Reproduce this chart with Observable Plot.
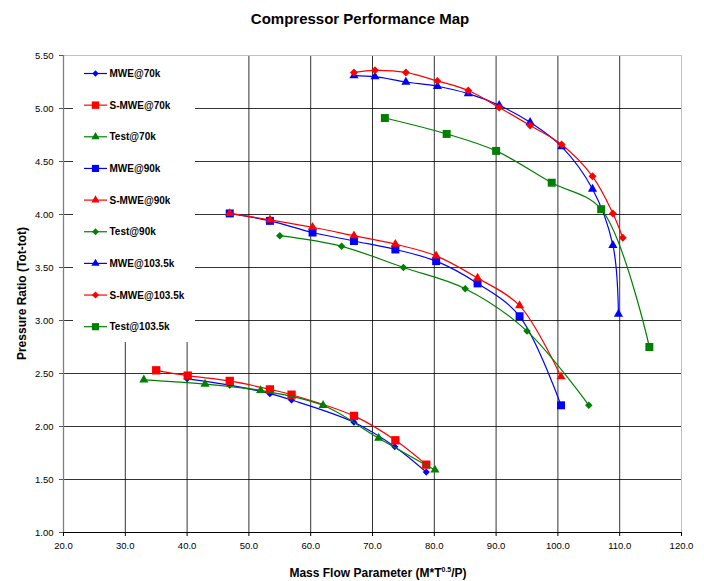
<!DOCTYPE html>
<html><head><meta charset="utf-8">
<script src="https://cdn.jsdelivr.net/npm/d3@7"></script>
<script src="https://cdn.jsdelivr.net/npm/@observablehq/plot@0.6"></script>
<style>
body{margin:0;background:#fff;font-family:"Liberation Sans",Arial,sans-serif;}
#title{height:40px;width:704px;box-sizing:border-box;padding-left:16px;padding-top:11px;text-align:center;font-weight:bold;font-size:15px;line-height:16px;color:#000;}
#chart svg{display:block;}
</style></head><body>
<div id="title">Compressor Performance Map</div>
<div id="chart"></div>
<script>
const xTicks = [20, 30, 40, 50, 60, 70, 80, 90, 100, 110, 120];
const yTicks = [1.0, 1.5, 2.0, 2.5, 3.0, 3.5, 4.0, 4.5, 5.0, 5.5];
const seriesNames = ["MWE@70k", "S-MWE@70k", "Test@70k", "MWE@90k", "S-MWE@90k", "Test@90k", "MWE@103.5k", "S-MWE@103.5k", "Test@103.5k"];
const seriesColors = ["#0000ff", "#ff0000", "#008000", "#0000ff", "#ff0000", "#008000", "#0000ff", "#ff0000", "#008000"];
const seriesSymbols = ["diamond2", "square", "triangle", "square", "triangle", "diamond2", "triangle", "diamond2", "square"];
const seriesRadii = [3.2, 4.7, 3.4, 4.5, 3.4, 3.4, 3.4, 3.6, 4.5];

const mwe70X = [40.0, 46.9, 53.4, 56.9, 67.0, 73.6, 78.7];
const mwe70Y = [2.45, 2.39, 2.31, 2.25, 2.04, 1.81, 1.57];
const smwe70X = [35.0, 40.1, 46.9, 53.4, 56.9, 67.0, 73.7, 78.7];
const smwe70Y = [2.53, 2.48, 2.43, 2.35, 2.30, 2.10, 1.87, 1.64];
const test70X = [33.0, 42.9, 51.9, 62.0, 71.0, 80.1];
const test70Y = [2.44, 2.40, 2.34, 2.20, 1.89, 1.59];

const mwe90X = [46.9, 53.4, 60.3, 67.0, 73.7, 80.3, 87.0, 93.8, 100.5];
const mwe90Y = [4.01, 3.94, 3.83, 3.75, 3.67, 3.56, 3.35, 3.04, 2.20];
const smwe90X = [46.9, 53.4, 60.3, 67.0, 73.7, 80.3, 87.0, 93.8, 100.5];
const smwe90Y = [4.01, 3.95, 3.88, 3.80, 3.72, 3.61, 3.40, 3.14, 2.47];
const test90X = [55.0, 65.0, 75.0, 85.0, 95.0, 105.0];
const test90Y = [3.80, 3.70, 3.50, 3.30, 2.90, 2.20];

const mwe103X = [67.0, 70.4, 75.4, 80.5, 85.5, 90.5, 95.5, 100.6, 105.6, 108.9, 109.8];
const mwe103Y = [5.31, 5.30, 5.25, 5.21, 5.14, 5.03, 4.87, 4.64, 4.24, 3.71, 3.06];
const smwe103X = [67.0, 70.4, 75.4, 80.5, 85.5, 90.5, 95.5, 100.6, 105.6, 108.9, 110.5];
const smwe103Y = [5.34, 5.36, 5.34, 5.26, 5.17, 5.01, 4.84, 4.66, 4.36, 4.01, 3.78];
const test103X = [72.0, 82.0, 90.0, 99.0, 107.0, 114.8];
const test103Y = [4.91, 4.76, 4.60, 4.30, 4.05, 2.75];

const seriesX = [mwe70X, smwe70X, test70X, mwe90X, smwe90X, test90X, mwe103X, smwe103X, test103X];
const seriesY = [mwe70Y, smwe70Y, test70Y, mwe90Y, smwe90Y, test90Y, mwe103Y, smwe103Y, test103Y];

const series = seriesNames.map((name, i) => ({
  name, color: seriesColors[i], symbol: seriesSymbols[i], r: seriesRadii[i],
  data: seriesX[i].map((x, j) => ({x, y: seriesY[i][j]}))
}));

const W = 704, H = 541;
const mL = 63, mR = 23, mT = 15, mB = 49;

const chart = Plot.plot({
  width: W, height: H,
  marginLeft: mL, marginRight: mR, marginTop: mT, marginBottom: mB,
  style: {fontFamily: "'Liberation Sans', Arial, sans-serif", fontSize: "9.5px", color: "#000", background: "#fff", overflow: "visible"},
  x: {domain: [20, 120], label: null},
  y: {domain: [1, 5.5], label: null},
  marks: [
    Plot.gridX(xTicks, {stroke: "#000", strokeOpacity: 0.8, strokeWidth: 1}),
    Plot.gridY(yTicks, {stroke: "#000", strokeOpacity: 0.8, strokeWidth: 1}),
    Plot.ruleX([xTicks[xTicks.length - 1]], {stroke: "#c0c0c0", strokeWidth: 1}),
    Plot.ruleY([yTicks[yTicks.length - 1]], {stroke: "#c0c0c0", strokeWidth: 1}),
    Plot.ruleX([xTicks[0]], {stroke: "#808080", strokeWidth: 1.3}),
    Plot.ruleY([yTicks[0]], {stroke: "#000", strokeWidth: 1.2}),
    Plot.axisX({ticks: xTicks, tickSize: 4, tickPadding: 6, tickFormat: d => d.toFixed(1), label: null, stroke: "#000"}),
    Plot.axisY({ticks: yTicks, tickSize: 4, tickPadding: 6, tickFormat: d => d.toFixed(2), label: null, stroke: "#555"}),
    ...series.flatMap(s => [
      Plot.line(s.data, {x: "x", y: "y", stroke: s.color, strokeWidth: 1.2, curve: "catmull-rom"}),
      Plot.dot(s.data, {x: "x", y: "y", symbol: s.symbol, fill: s.color, r: s.r, stroke: "none"})
    ])
  ]
});
document.getElementById("chart").appendChild(chart);

const svg = d3.select(chart);

// Legend box (inside plot area)
const lg = svg.append("g").attr("text-anchor", "start");
lg.append("rect").attr("x", 73).attr("y", 16).attr("width", 122).attr("height", 286).attr("fill", "#fff");
const symMap = {diamond2: d3.symbolDiamond2, square: d3.symbolSquare, triangle: d3.symbolTriangle};
series.forEach((s, i) => {
  const y = 33.5 + i * 31.65;
  const g = lg.append("g");
  g.append("line").attr("x1", 84).attr("x2", 107).attr("y1", y).attr("y2", y).attr("stroke", s.color).attr("stroke-width", 1.2);
  g.append("path").attr("transform", `translate(95.5,${y})`)
    .attr("d", d3.symbol(symMap[s.symbol], Math.PI * s.r * s.r * 0.8)())
    .attr("fill", s.color);
  g.append("text").attr("x", 109.5).attr("y", y).attr("dy", "0.35em")
    .attr("text-anchor", "start")
    .attr("font-weight", "bold").attr("font-size", "10px").attr("fill", "#000").text(s.name);
});

// Axis titles
svg.append("text")
  .attr("transform", `translate(22,${mT + (H - mT - mB) / 2}) rotate(-90)`)
  .attr("text-anchor", "middle").attr("dy", "0.35em")
  .attr("font-weight", "bold").attr("font-size", "12px").attr("fill", "#000")
  .text("Pressure Ratio (Tot-tot)");
const xt = svg.append("text")
  .attr("x", 378).attr("y", 537)
  .attr("text-anchor", "middle")
  .attr("font-weight", "bold").attr("font-size", "12px").attr("fill", "#000");
xt.append("tspan").text("Mass Flow Parameter (M*T");
xt.append("tspan").attr("font-size", "7px").attr("dy", "-5").text("0.5");
xt.append("tspan").attr("dy", "5").text("/P)");
</script>
</body></html>
